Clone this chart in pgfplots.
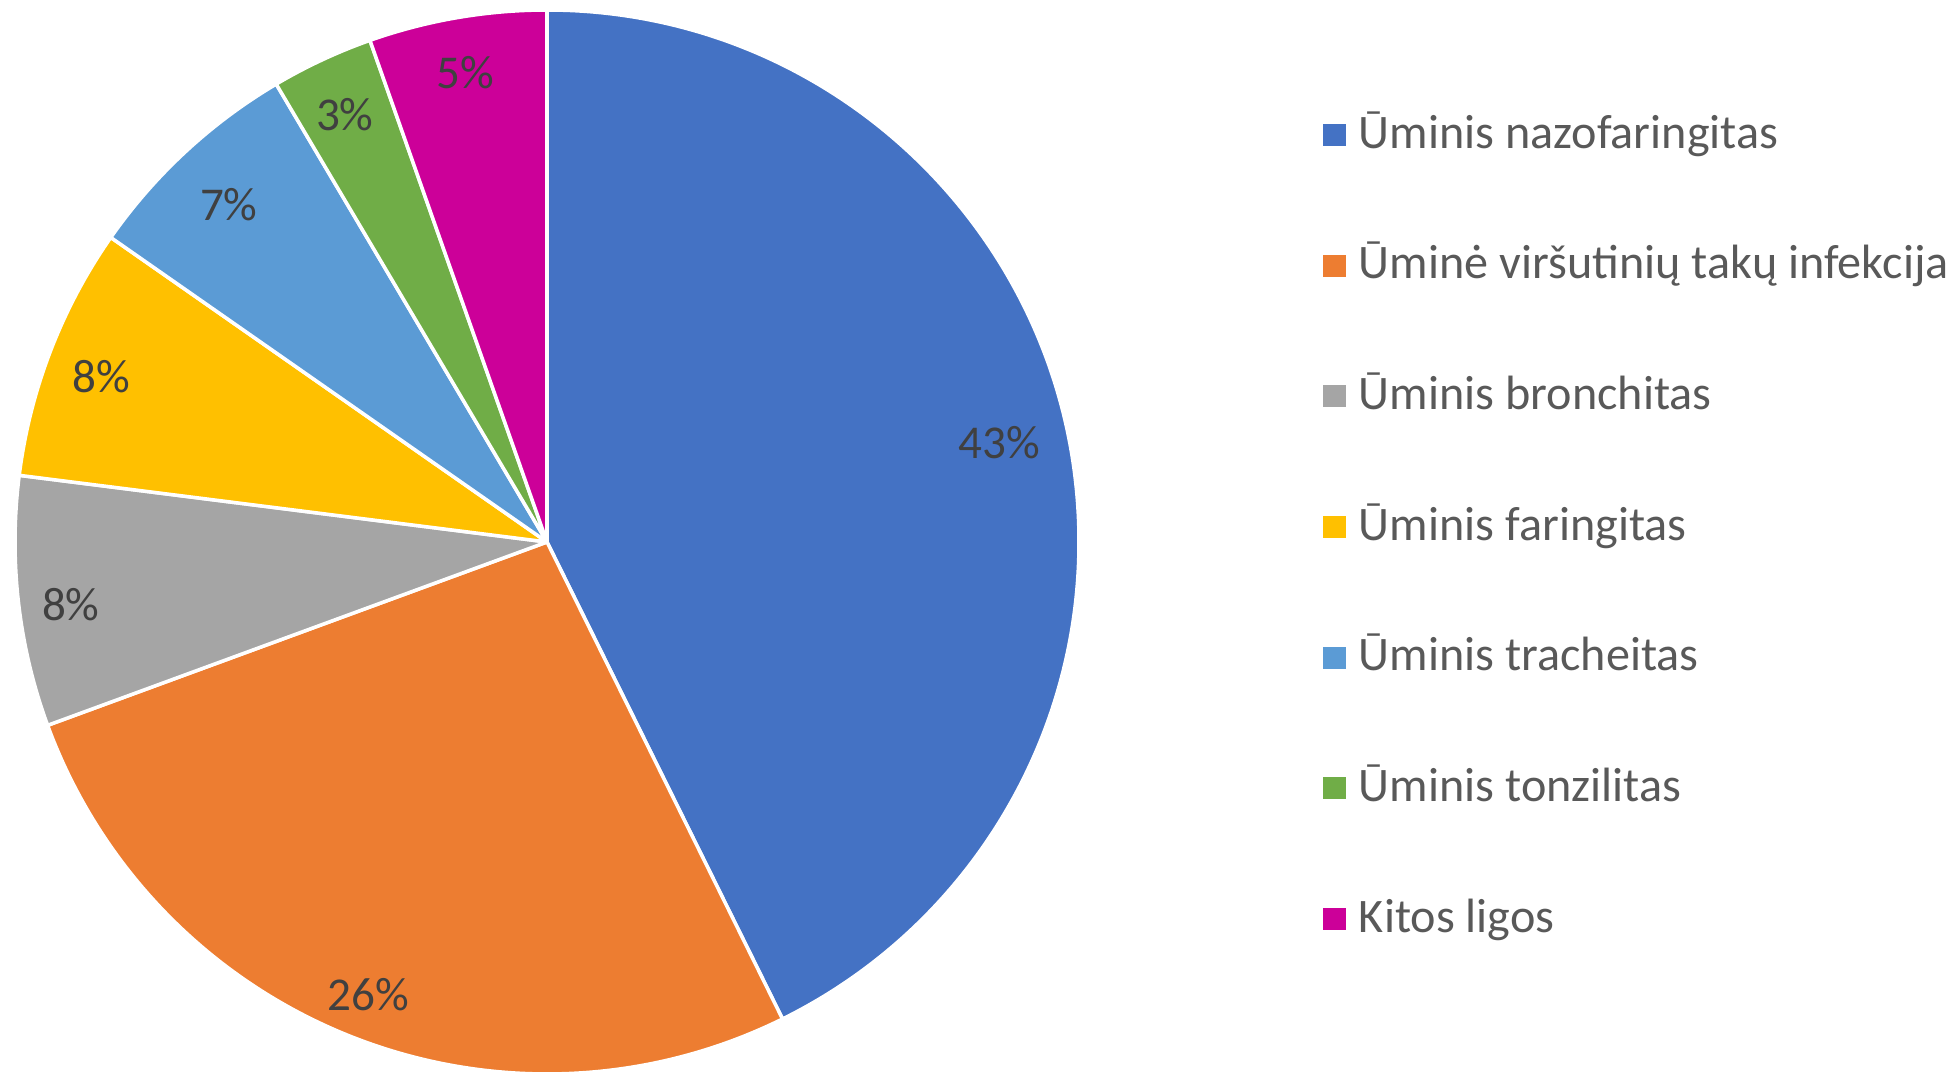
\documentclass[border=0pt]{standalone}
\usepackage{pgfplots}
\pgfplotsset{compat=1.18}
\usepackage{pgfplotstable}
\usepackage{fontspec}
\setmainfont{Carlito}

\definecolor{c0}{HTML}{4472C4}
\definecolor{c1}{HTML}{ED7D31}
\definecolor{c2}{HTML}{A5A5A5}
\definecolor{c3}{HTML}{FFC000}
\definecolor{c4}{HTML}{5B9BD5}
\definecolor{c5}{HTML}{70AD47}
\definecolor{c6}{HTML}{CC0099}
\definecolor{lbltext}{HTML}{404040}
\definecolor{legtext}{HTML}{595959}

% shares in percent (clockwise from 12 o'clock), printed label, label position
\pgfplotstableread{
pct   label  lx      ly
42.7  43     0.850   0.186
26.7  26    -0.336  -0.850
7.6   8     -0.895  -0.118
7.7   8     -0.838   0.310
6.8   7     -0.598   0.635
3.1   3     -0.380   0.803
5.4   5     -0.154   0.883
}\piedata

\newcommand{\R}{53.2mm}

\begin{document}
\begin{tikzpicture}
\begin{axis}[
  scale only axis,
  x=53.2mm, y=53.2mm,
  xmin=-1.0282, xmax=2.6523,
  ymin=-1.0019, ymax=1.0188,
  hide axis, clip=false,
  legend image code/.code={\fill[#1, draw=none] (0mm,0.2mm) rectangle (2.3mm,2.4mm);},
  legend style={
    at={(axis cs:1.4586,0.8157)}, anchor=north west,
    draw=none, fill=none, inner sep=0pt, outer sep=0pt,
    row sep=7.867mm,
    font=\fontsize{13.7}{16}\selectfont, text=legtext,
    nodes={inner sep=0pt, text height=4mm, text depth=1.2mm},
    cells={anchor=base west},
    /tikz/every odd column/.append style={column sep=1.3mm},
  },
]
\coordinate (bl) at (rel axis cs:0,0);
\coordinate (tr) at (rel axis cs:1,1);

\pgfplotstablegetrowsof{\piedata}
\pgfmathtruncatemacro\nrows{\pgfplotsretval-1}
\xdef\cum{0}
\pgfplotsforeachungrouped \i in {0,...,\nrows}{%
  \pgfplotstablegetelem{\i}{pct}\of\piedata \let\v\pgfplotsretval
  \pgfplotstablegetelem{\i}{label}\of\piedata \let\lab\pgfplotsretval
  \pgfplotstablegetelem{\i}{lx}\of\piedata \let\lx\pgfplotsretval
  \pgfplotstablegetelem{\i}{ly}\of\piedata \let\ly\pgfplotsretval
  \pgfmathsetmacro\a{90-3.6*\cum}
  \pgfmathsetmacro\b{90-3.6*(\cum+\v)}
  \edef\cmd{%
    \noexpand\filldraw[fill=c\i, draw=white, line width=1pt, line join=round]
      (axis cs:0,0) -- (axis cs:{cos(\a)},{sin(\a)})
      arc[start angle=\a, end angle=\b, radius=\R] -- cycle;
    \noexpand\node[text=lbltext,
        font=\noexpand\fontsize{13.4}{15}\noexpand\selectfont]
      at (axis cs:\lx,\ly) {\lab\noexpand\%};
  }%
  \cmd
  \pgfmathsetmacro\tmp{\cum+\v}\xdef\cum{\tmp}%
}

\addlegendimage{fill=c0}\addlegendentry{Ūminis nazofaringitas}
\addlegendimage{fill=c1}\addlegendentry{Ūminė viršutinių takų infekcija}
\addlegendimage{fill=c2}\addlegendentry{Ūminis bronchitas}
\addlegendimage{fill=c3}\addlegendentry{Ūminis faringitas}
\addlegendimage{fill=c4}\addlegendentry{Ūminis tracheitas}
\addlegendimage{fill=c5}\addlegendentry{Ūminis tonzilitas}
\addlegendimage{fill=c6}\addlegendentry{Kitos ligos}
\end{axis}
\pgfresetboundingbox
\useasboundingbox (bl) rectangle (tr);
\end{tikzpicture}
\end{document}
